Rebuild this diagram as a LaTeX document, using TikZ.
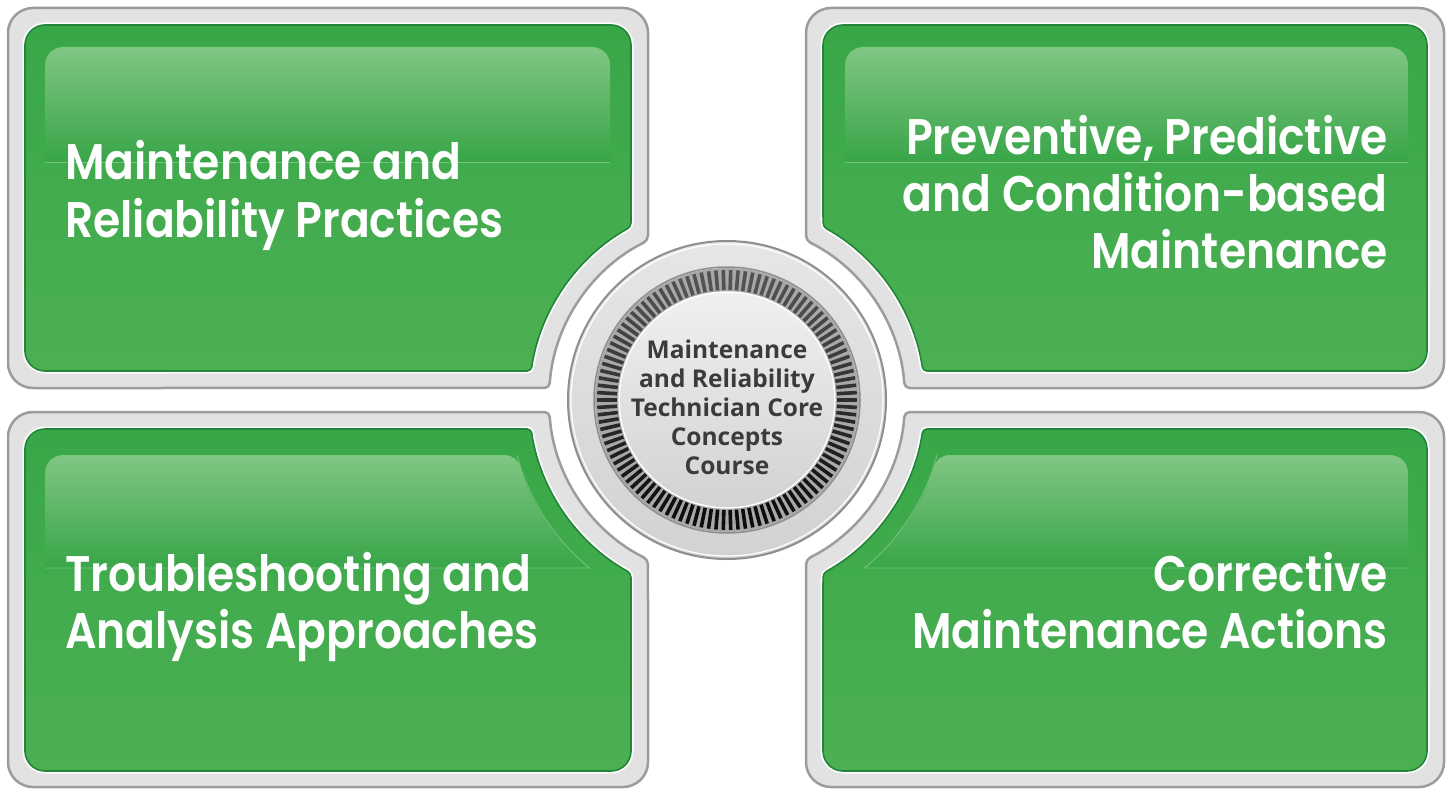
\documentclass[tikz,border=0pt]{standalone}
\usepackage{fontspec}
\newfontfamily\panelfont{Poppins SemiBold}[FakeStretch=0.88]
\newfontfamily\centerfont{Open Sans Bold}
\usetikzlibrary{calc}
\definecolor{framefill}{HTML}{E2E2E2}
\definecolor{frameline}{HTML}{9C9C9C}
\definecolor{greenedge}{HTML}{23853A}
\definecolor{greentop}{HTML}{38A748}
\definecolor{greenmid}{HTML}{2B9243}
\definecolor{greenbot}{HTML}{4CB053}
\definecolor{glosstop}{HTML}{80C683}
\definecolor{glossbot}{HTML}{38A548}
\definecolor{glossline}{HTML}{7CC27F}
\definecolor{disctop}{HTML}{E6E6E6}
\definecolor{discbot}{HTML}{D2D2D2}
\definecolor{discline}{HTML}{8E8E8E}
\definecolor{tickbg}{HTML}{A8A8A8}
\definecolor{centertext}{HTML}{3B3B3B}
\begin{document}
\begin{tikzpicture}[x=1pt,y=1pt,
  grayframe/.style={fill=framefill, draw=frameline, line width=2.5pt, rounded corners=25pt},
  whiterim/.style={draw=white, line width=5pt, rounded corners=20pt},
  greenpanel/.style={top color=greentop, middle color=greenmid, bottom color=greenbot, draw=greenedge, line width=1.6pt, rounded corners=20pt},
  gloss/.style={top color=glosstop, bottom color=glossbot, rounded corners=18pt},
  glossedge/.style={draw=glossline, line width=0.8pt},
  ptext/.style={font=\panelfont\fontsize{50}{58}\selectfont, text=white, inner sep=0pt},
  ctext/.style={font=\centerfont\fontsize{24.5}{29}\selectfont, text=centertext, inner sep=0pt},
  tickmark/.style={line width=3.6pt}
]
\useasboundingbox (0,0) rectangle (1447,-789);
\coordinate (C) at (727,-400);

% ---------- gray frames ----------
\path[grayframe] (300,-8) -- (648,-8) [rounded corners=5pt] -- (648,-240.5)
  arc[start angle=116.35, end angle=176.13, radius=178]
  [rounded corners=25pt] -- (8,-388) -- (8,-8) -- cycle;
\path[grayframe] (1100,-8) -- (1444,-8) -- (1444,-388) [rounded corners=5pt] -- (904.6,-388)
  arc[start angle=3.87, end angle=63.65, radius=178]
  [rounded corners=25pt] -- (806,-8) -- cycle;
\path[grayframe] (300,-787) -- (8,-787) -- (8,-412) [rounded corners=5pt] -- (549.4,-412)
  arc[start angle=183.87, end angle=243.65, radius=178]
  [rounded corners=25pt] -- (648,-787) -- cycle;
\path[grayframe] (1100,-787) -- (1444,-787) -- (1444,-412) [rounded corners=5pt] -- (904.6,-412)
  arc[start angle=-3.87, end angle=-63.65, radius=178]
  [rounded corners=25pt] -- (806,-787) -- cycle;

% ---------- green panels ----------
\def\tlgreen{(300,-25) -- (631,-25) [rounded corners=4pt] -- (631,-226.8) arc[start angle=119.0, end angle=171.58, radius=198] [rounded corners=20pt] -- (25,-371) -- (25,-25) -- cycle}
\def\trgreen{(1100,-25) -- (1427,-25) -- (1427,-371) [rounded corners=4pt] -- (922.9,-371) arc[start angle=8.42, end angle=61.0, radius=198] [rounded corners=20pt] -- (823,-25) -- cycle}
\def\blgreen{(300,-771) -- (25,-771) -- (25,-429) [rounded corners=4pt] -- (531.1,-429) arc[start angle=188.42, end angle=241.0, radius=198] [rounded corners=20pt] -- (631,-771) -- cycle}
\def\brgreen{(1100,-771) -- (1427,-771) -- (1427,-429) [rounded corners=4pt] -- (922.9,-429) arc[start angle=-8.42, end angle=-61.0, radius=198] [rounded corners=20pt] -- (823,-771) -- cycle}
\path[whiterim] \tlgreen; \path[greenpanel] \tlgreen;
\path[whiterim] \trgreen; \path[greenpanel] \trgreen;
\path[whiterim] \blgreen; \path[greenpanel] \blgreen;
\path[whiterim] \brgreen; \path[greenpanel] \brgreen;

% ---------- gloss ----------
\path[gloss] (45,-162) -- (45,-47) -- (610,-47) [sharp corners] -- (610,-162) -- cycle;
\draw[glossedge] (45,-162) -- (610,-162);
\path[gloss] (845,-162) -- (845,-47) -- (1408,-47) [sharp corners] -- (1408,-162) -- cycle;
\draw[glossedge] (845,-162) -- (1408,-162);
\path[gloss] (45,-568) -- (45,-455) [rounded corners=12pt] -- (517.1,-455) arc[start angle=194.68, end angle=230.73, radius=217] [sharp corners] -- cycle;
\draw[glossedge] (45,-568) -- (589.6,-568) arc[start angle=230.73, end angle=194.68, radius=217];
\path[gloss] (1408,-568) -- (1408,-455) [rounded corners=12pt] -- (936.9,-455) arc[start angle=-14.68, end angle=-50.73, radius=217] [sharp corners] -- cycle;
\draw[glossedge] (1408,-568) -- (864.4,-568) arc[start angle=-50.73, end angle=-14.68, radius=217];

% ---------- central disc ----------
\shade[top color=disctop, bottom color=discbot, draw=discline, line width=2pt] (C) circle[radius=159];
\draw[white, line width=1.2pt] (C) circle[radius=156];
\fill[tickbg] (C) circle[radius=132];
\draw[discline, line width=1.5pt] (C) circle[radius=133];
\foreach \i in {0,...,109}{
  \pgfmathsetmacro\ang{\i*3.272727}
  \pgfmathtruncatemacro\shd{82-14*sin(\ang)}
  \draw[tickmark, black!\shd] ($(C)+(\ang:110)$) -- ($(C)+(\ang:130)$);
}
\shade[top color=disctop!60!white, bottom color=discbot, draw=white, line width=1.5pt] (C) circle[radius=108];

% ---------- texts ----------
\node[ptext, anchor=base west] (tl1) at (65,-179) {Maintenance and};
\node[ptext, anchor=base west] (tl2) at (65,-237) {Reliability Practices};
\node[ptext, anchor=base east] (tr1) at (1388,-154) {Preventive, Predictive};
\node[ptext, anchor=base east] (tr2) at (1388,-211) {and Condition-based};
\node[ptext, anchor=base east] (tr3) at (1388,-268) {Maintenance};
\node[ptext, anchor=base west] (bl1) at (65,-591) {Troubleshooting and};
\node[ptext, anchor=base west] (bl2) at (65,-648) {Analysis Approaches};
\node[ptext, anchor=base east] (br1) at (1388,-591) {Corrective};
\node[ptext, anchor=base east] (br2) at (1388,-648) {Maintenance Actions};

\node[ctext, anchor=base] (c1) at (727,-358) {Maintenance};
\node[ctext, anchor=base] (c2) at (727,-387) {and Reliability};
\node[ctext, anchor=base] (c3) at (727,-416) {Technician Core};
\node[ctext, anchor=base] (c4) at (727,-445) {Concepts};
\node[ctext, anchor=base] (c5) at (727,-474) {Course};
\end{tikzpicture}
\end{document}
